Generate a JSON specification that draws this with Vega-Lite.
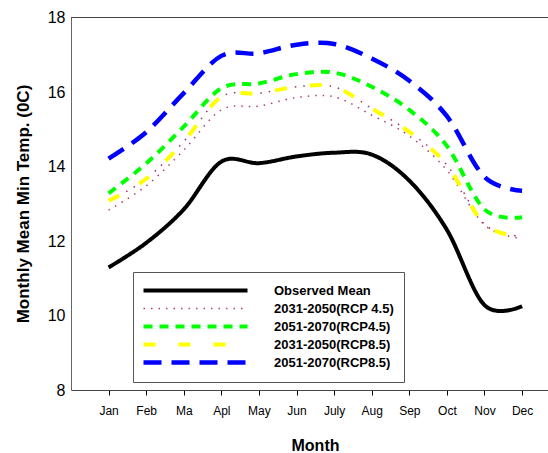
{
  "$schema": "https://vega.github.io/schema/vega-lite/v6.json",
  "width": 477,
  "height": 372.5,
  "autosize": {"type": "none"},
  "padding": {"left": 71, "top": 17.5, "right": 0, "bottom": 63},
  "background": "white",
  "config": {
    "view": {"stroke": null},
    "font": "Liberation Sans",
    "axis": {"labelFont": "Liberation Sans", "titleFont": "Liberation Sans", "grid": false}
  },
  "data": {
    "values": [
      {"month": 1, "series": "Observed Mean", "temp": 11.29},
      {"month": 2, "series": "Observed Mean", "temp": 11.95},
      {"month": 3, "series": "Observed Mean", "temp": 12.85},
      {"month": 4, "series": "Observed Mean", "temp": 14.13},
      {"month": 5, "series": "Observed Mean", "temp": 14.09},
      {"month": 6, "series": "Observed Mean", "temp": 14.27},
      {"month": 7, "series": "Observed Mean", "temp": 14.37},
      {"month": 8, "series": "Observed Mean", "temp": 14.32},
      {"month": 9, "series": "Observed Mean", "temp": 13.62},
      {"month": 10, "series": "Observed Mean", "temp": 12.30},
      {"month": 11, "series": "Observed Mean", "temp": 10.28},
      {"month": 12, "series": "Observed Mean", "temp": 10.25},
      {"month": 1, "series": "2031-2050(RCP 4.5)", "temp": 12.83},
      {"month": 2, "series": "2031-2050(RCP 4.5)", "temp": 13.48},
      {"month": 3, "series": "2031-2050(RCP 4.5)", "temp": 14.44},
      {"month": 4, "series": "2031-2050(RCP 4.5)", "temp": 15.52},
      {"month": 5, "series": "2031-2050(RCP 4.5)", "temp": 15.62},
      {"month": 6, "series": "2031-2050(RCP 4.5)", "temp": 15.85},
      {"month": 7, "series": "2031-2050(RCP 4.5)", "temp": 15.87},
      {"month": 8, "series": "2031-2050(RCP 4.5)", "temp": 15.38},
      {"month": 9, "series": "2031-2050(RCP 4.5)", "temp": 14.82},
      {"month": 10, "series": "2031-2050(RCP 4.5)", "temp": 13.90},
      {"month": 11, "series": "2031-2050(RCP 4.5)", "temp": 12.43},
      {"month": 12, "series": "2031-2050(RCP 4.5)", "temp": 12.07},
      {"month": 1, "series": "2051-2070(RCP4.5)", "temp": 13.28},
      {"month": 2, "series": "2051-2070(RCP4.5)", "temp": 14.08},
      {"month": 3, "series": "2051-2070(RCP4.5)", "temp": 15.07},
      {"month": 4, "series": "2051-2070(RCP4.5)", "temp": 16.10},
      {"month": 5, "series": "2051-2070(RCP4.5)", "temp": 16.23},
      {"month": 6, "series": "2051-2070(RCP4.5)", "temp": 16.48},
      {"month": 7, "series": "2051-2070(RCP4.5)", "temp": 16.52},
      {"month": 8, "series": "2051-2070(RCP4.5)", "temp": 16.14},
      {"month": 9, "series": "2051-2070(RCP4.5)", "temp": 15.52},
      {"month": 10, "series": "2051-2070(RCP4.5)", "temp": 14.55},
      {"month": 11, "series": "2051-2070(RCP4.5)", "temp": 12.85},
      {"month": 12, "series": "2051-2070(RCP4.5)", "temp": 12.64},
      {"month": 1, "series": "2031-2050(RCP8.5)", "temp": 13.08},
      {"month": 2, "series": "2031-2050(RCP8.5)", "temp": 13.67},
      {"month": 3, "series": "2031-2050(RCP8.5)", "temp": 14.67},
      {"month": 4, "series": "2031-2050(RCP8.5)", "temp": 15.87},
      {"month": 5, "series": "2031-2050(RCP8.5)", "temp": 15.96},
      {"month": 6, "series": "2031-2050(RCP8.5)", "temp": 16.14},
      {"month": 7, "series": "2031-2050(RCP8.5)", "temp": 16.14},
      {"month": 8, "series": "2031-2050(RCP8.5)", "temp": 15.56},
      {"month": 9, "series": "2031-2050(RCP8.5)", "temp": 14.93},
      {"month": 10, "series": "2031-2050(RCP8.5)", "temp": 14.04},
      {"month": 11, "series": "2031-2050(RCP8.5)", "temp": 12.45},
      {"month": 12, "series": "2031-2050(RCP8.5)", "temp": 12.13},
      {"month": 1, "series": "2051-2070(RCP8.5)", "temp": 14.21},
      {"month": 2, "series": "2051-2070(RCP8.5)", "temp": 14.92},
      {"month": 3, "series": "2051-2070(RCP8.5)", "temp": 15.97},
      {"month": 4, "series": "2051-2070(RCP8.5)", "temp": 16.97},
      {"month": 5, "series": "2051-2070(RCP8.5)", "temp": 17.04},
      {"month": 6, "series": "2051-2070(RCP8.5)", "temp": 17.27},
      {"month": 7, "series": "2051-2070(RCP8.5)", "temp": 17.29},
      {"month": 8, "series": "2051-2070(RCP8.5)", "temp": 16.90},
      {"month": 9, "series": "2051-2070(RCP8.5)", "temp": 16.30},
      {"month": 10, "series": "2051-2070(RCP8.5)", "temp": 15.35},
      {"month": 11, "series": "2051-2070(RCP8.5)", "temp": 13.72},
      {"month": 12, "series": "2051-2070(RCP8.5)", "temp": 13.35}
    ]
  },
  "layer": [
    {
      "mark": {"type": "line", "interpolate": "cardinal", "strokeCap": "butt"},
      "encoding": {
        "x": {
          "field": "month", "type": "quantitative",
          "scale": {"domain": [0, 12.69], "nice": false, "zero": false},
          "axis": {
            "values": [1, 2, 3, 4, 5, 6, 7, 8, 9, 10, 11, 12],
            "labelExpr": "['','Jan','Feb','Ma','Apl','May','Jun','July','Aug','Sep','Oct','Nov','Dec'][datum.value]",
            "title": "Month",
            "titleFontSize": 16, "titleFontWeight": "bold", "titleColor": "black",
            "titleX": 244, "titleY": 60, "titleBaseline": "alphabetic", "titleAlign": "center",
            "labelFontSize": 12, "labelColor": "black", "labelPadding": 10,
            "tickSize": 5, "tickColor": "black", "domainColor": "#444",
            "labelFlush": false, "labelOverlap": false
          }
        },
        "y": {
          "field": "temp", "type": "quantitative",
          "scale": {"domain": [8, 18], "nice": false, "zero": false},
          "axis": {
            "values": [8, 10, 12, 14, 16, 18],
            "ticks": false, "labelPadding": 6, "labelFontSize": 16, "labelColor": "black",
            "title": "Monthly Mean Min Temp. (0C)",
            "titleFontSize": 17, "titleFontWeight": "bold", "titleColor": "black",
            "titleX": -48, "titleY": 186, "titleAngle": -90, "titleAlign": "center", "titleBaseline": "middle",
            "domainColor": "#666", "labelFlush": false
          }
        },
        "color": {
          "field": "series", "type": "nominal",
          "scale": {
            "domain": ["Observed Mean", "2031-2050(RCP 4.5)", "2051-2070(RCP4.5)", "2031-2050(RCP8.5)", "2051-2070(RCP8.5)"],
            "range": ["#000000", "#b03a78", "#00ff00", "#ffff00", "#0000ff"]
          },
          "legend": {
            "title": null, "orient": "none", "legendX": 62, "legendY": 254.5,
            "symbolType": "stroke", "symbolSize": 10816, "symbolOffset": -2,
            "labelFont": "Liberation Sans", "labelFontSize": 13, "labelFontWeight": "bold", "labelColor": "black",
            "strokeColor": "#555", "padding": 10, "rowPadding": 0, "clipHeight": 17.2, "labelOffset": 24
          }
        },
        "strokeDash": {
          "field": "series", "type": "nominal",
          "scale": {
            "domain": ["Observed Mean", "2031-2050(RCP 4.5)", "2051-2070(RCP4.5)", "2031-2050(RCP8.5)", "2051-2070(RCP8.5)"],
            "range": [[1, 0], [1.5, 6], [9, 7], [12, 23], [18, 10]]
          },
          "legend": {
            "title": null, "orient": "none", "legendX": 62, "legendY": 254.5,
            "symbolType": "stroke", "symbolSize": 10816, "symbolOffset": -2,
            "labelFont": "Liberation Sans", "labelFontSize": 13, "labelFontWeight": "bold", "labelColor": "black",
            "strokeColor": "#555", "padding": 10, "rowPadding": 0, "clipHeight": 17.2, "labelOffset": 24
          }
        },
        "strokeWidth": {
          "field": "series", "type": "nominal",
          "scale": {
            "type": "ordinal",
            "domain": ["Observed Mean", "2031-2050(RCP 4.5)", "2051-2070(RCP4.5)", "2031-2050(RCP8.5)", "2051-2070(RCP8.5)"],
            "range": [4, 1.5, 4, 4, 4.5]
          },
          "legend": {
            "title": null, "orient": "none", "legendX": 62, "legendY": 254.5,
            "symbolType": "stroke", "symbolSize": 10816, "symbolOffset": -2,
            "labelFont": "Liberation Sans", "labelFontSize": 13, "labelFontWeight": "bold", "labelColor": "black",
            "strokeColor": "#555", "padding": 10, "rowPadding": 0, "clipHeight": 17.2, "labelOffset": 24
          }
        }
      }
    },
    {
      "transform": [{"filter": "datum.series === '2031-2050(RCP8.5)'"}],
      "mark": {"type": "line", "interpolate": "cardinal", "color": "#a0306e", "strokeWidth": 1.5, "strokeDash": [1.5, 7, 1.5, 25], "strokeDashOffset": 15},
      "encoding": {
        "x": {"field": "month", "type": "quantitative"},
        "y": {"field": "temp", "type": "quantitative"}
      }
    },
    {
      "mark": {"type": "rule", "color": "#444", "strokeWidth": 1},
      "encoding": {"y": {"datum": 18, "type": "quantitative"}}
    }
  ]
}
